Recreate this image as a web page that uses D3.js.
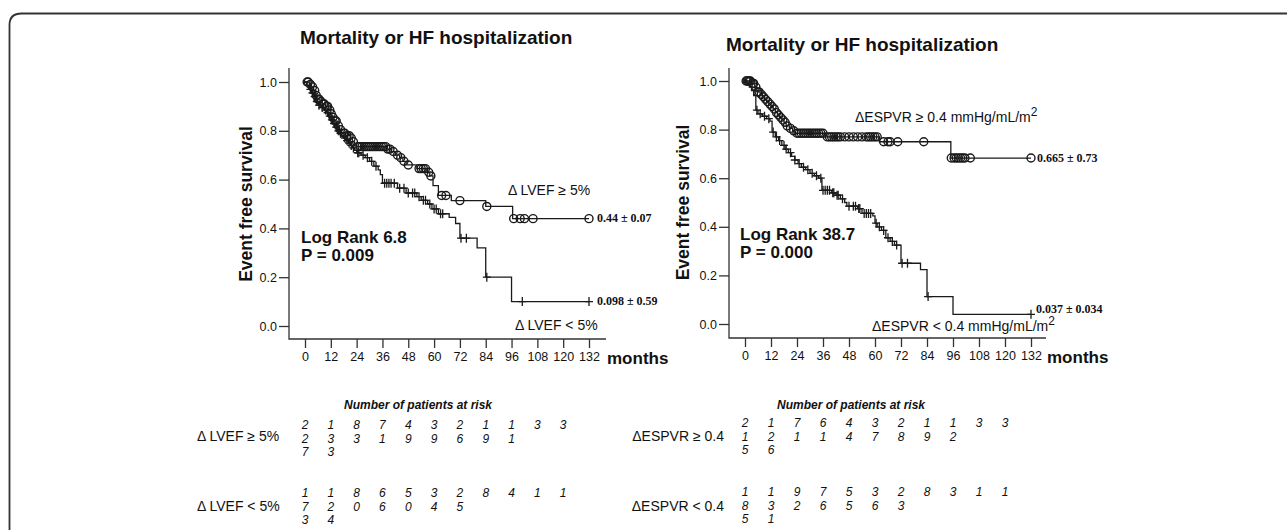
<!DOCTYPE html>
<html lang="en">
<head>
<meta charset="UTF-8">
<title>Mortality or HF hospitalization - Kaplan-Meier</title>
<script src="https://d3js.org/d3.v7.min.js"></script>
<style>
  body { margin: 0; background: #fff; font-family: 'Liberation Sans', Arial, sans-serif; }
  svg text { fill: #111; }
</style>
</head>
<body>
<div id="chart"></div>
<script>
// ---- data ----
const monthTicks = [0, 12, 24, 36, 48, 60, 72, 84, 96, 108, 120, 132];
const survTicks = [0, 0.2, 0.4, 0.6, 0.8, 1.0];
const riskTimes = [0, 12, 24, 36, 48, 60, 72, 84, 96, 108, 120];

// steps: [month, survival after the event]
const lvefHighSteps = [[2,0.99],[3,0.98],[4,0.965],[5,0.945],[5.5,0.93],[7,0.92],[8,0.91],[9.5,0.9],[11,0.885],[12,0.87],[12.5,0.855],[13.5,0.84],[15,0.82],[16,0.805],[17,0.79],[19,0.78],[21,0.77],[22,0.755],[23,0.745],[24,0.735],[38,0.725],[40,0.715],[42,0.70],[44,0.69],[45.5,0.675],[47,0.66],[52,0.645],[57,0.63],[58,0.615],[59.5,0.575],[62,0.535],[68,0.514],[84,0.49],[96.5,0.44]];
const lvefHighCensor = [1,1.5,2.5,3.5,4.5,5.2,6,6.5,7.5,8.5,9,10,10.5,11.5,12.2,13,14,14.5,15.5,16.5,18,18.5,19.5,20.5,21.5,22.5,24.5,25.5,26.5,27.5,28.5,29.5,30.5,31.5,32.5,33.5,34.5,35.5,36.5,37.5,38.5,39.5,41,43,44.5,46,48,53,54,55,56,57.5,58.5,63.5,65.5,72,84.5,97,100,102,106,132];
const lvefLowSteps = [[1,0.985],[2,0.97],[3,0.955],[4,0.94],[5,0.92],[6,0.905],[7,0.895],[9,0.885],[10,0.875],[11,0.86],[12,0.845],[13,0.83],[14,0.815],[15,0.80],[16,0.79],[17,0.78],[18,0.77],[19,0.76],[20,0.75],[21,0.74],[22,0.73],[23,0.72],[24,0.71],[26,0.70],[28,0.69],[30,0.675],[32,0.655],[34,0.64],[35,0.62],[36,0.585],[43,0.565],[47,0.545],[52,0.53],[54,0.515],[57,0.50],[59,0.48],[62,0.46],[67,0.445],[70,0.42],[72,0.36],[80,0.32],[84,0.20],[96,0.10]];
const lvefLowCensor = [2.5,3.5,4.5,5.5,6.5,8,9.5,10.5,11.5,12.5,13.5,14.5,15.5,16.5,18.5,19.5,20.5,21.5,22.5,24.5,25,27,29,31,33,37,38,39,40,41.5,44,46,48,50,51,53,55,56,58,60,61,63,64,72.5,75,84.5,101,132];

const espvrHighSteps = [[3,0.99],[4.5,0.975],[5.5,0.955],[7,0.945],[8,0.935],[9,0.925],[10,0.915],[11,0.905],[12,0.895],[13,0.885],[14,0.87],[15,0.86],[16,0.85],[17,0.84],[18,0.83],[19,0.815],[20.5,0.805],[22,0.795],[23,0.785],[37,0.77],[62,0.75],[95,0.683]];
const espvrHighCensor = [0.5,1,1.5,2,2.5,3.5,4,5,5.8,6.5,7.5,8.5,9.5,10.5,11.5,12.5,13.5,14.5,15.5,16.5,17.5,18.5,19.5,21,22.5,24,25,26,27,28,29,30,31,32,33,34,35,36,38,39,40,41,42,43,44,46,48,50,52,54,56,57,58,59,60,61,64,66,67,70.5,82.5,95.2,96.5,97.5,98.5,99.5,100.5,101.5,104,132];
const espvrLowSteps = [[1,0.99],[2,0.975],[3,0.96],[4,0.94],[5,0.88],[6,0.865],[8,0.855],[10,0.845],[11.5,0.835],[12.5,0.79],[14,0.77],[15.5,0.755],[17,0.735],[18.5,0.72],[20,0.705],[21.5,0.69],[23,0.675],[24.5,0.66],[26,0.645],[28,0.635],[30,0.62],[32,0.61],[34,0.60],[35.5,0.55],[40,0.54],[42,0.53],[44,0.515],[46,0.50],[47,0.485],[52,0.475],[54,0.455],[59,0.445],[60,0.415],[61,0.40],[63,0.385],[65,0.355],[67,0.34],[69,0.325],[72,0.25],[81,0.224],[84,0.113],[96,0.04]];
const espvrLowCensor = [5.5,7,9,11,13,14.5,16,18,19,21,23,25,27,29,31,33,35,36,37,38,39,40.5,41,42.5,43,45,48,50,51,52.5,53,55,56,57,58,60.5,62,64,66,68,70,72.5,75,84.5,132];

// numbers at risk (printed as stacked digits)
const lvefHighRisk = [227, 133, 83, 71, 49, 39, 26, 19, 11, 3, 3];
const lvefLowRisk = [173, 124, 80, 66, 50, 34, 25, 8, 4, 1, 1];
const espvrHighRisk = [215, 126, 71, 61, 44, 37, 28, 19, 12, 3, 3];
const espvrLowRisk = [185, 131, 92, 76, 55, 36, 23, 8, 3, 1, 1];

const W = 1287, H = 530;
const svg = d3.select("#chart").append("svg")
    .attr("width", W).attr("height", H);

// rounded frame, right and bottom run off the picture
svg.append("path")
    .attr("d", "M9.5,560 L9.5,25 Q9.5,13.5 21.5,13.5 L1300,13.5")
    .attr("fill", "none").attr("stroke", "#333").attr("stroke-width", 1.8);

const ink = "#1a1a1a";

function survAt(steps, t) {
    let s = 1;
    steps.forEach(d => { if (d[0] <= t) s = d[1]; });
    return s;
}

function drawPanel(opt) {
    const g = svg.append("g");
    const x = d3.scaleLinear().domain([0, 132]).range(opt.xRange);
    const y = d3.scaleLinear().domain([0, 1]).range(opt.yRange);

    g.append("text")
        .attr("x", opt.titleX).attr("y", opt.titleY)
        .style("font-size", "19px").style("font-weight", "bold")
        .text("Mortality or HF hospitalization");

    // axis lines (L-shape)
    g.append("path")
        .attr("d", `M${opt.axisX},${opt.axisTop} V${opt.axisY} H${opt.axisRight}`)
        .attr("fill", "none").attr("stroke", "#333").attr("stroke-width", 1.3);

    const yAxis = g.append("g")
        .attr("transform", `translate(${opt.axisX},0)`)
        .call(d3.axisLeft(y).tickValues(survTicks).tickSize(10).tickPadding(2).tickFormat(d3.format(".1f")));
    const xAxis = g.append("g")
        .attr("transform", `translate(0,${opt.axisY})`)
        .call(d3.axisBottom(x).tickValues(monthTicks).tickSize(9).tickPadding(4));
    [yAxis, xAxis].forEach(a => {
        a.select(".domain").remove();
        a.selectAll("line").attr("stroke", "#333").attr("stroke-width", 1.3);
        a.selectAll("text").style("font-size", "12.5px").style("font-family", "'Liberation Sans', Arial, sans-serif").attr("fill", "#111");
    });

    g.append("text")
        .attr("x", opt.axisRight + 1).attr("y", opt.axisY + 25)
        .style("font-size", "17px").style("font-weight", "bold")
        .text("months");

    g.append("text")
        .attr("transform", `translate(${opt.yLabelX},${(opt.yRange[0] + opt.yRange[1]) / 2}) rotate(-90)`)
        .attr("text-anchor", "middle")
        .style("font-size", "17.5px").style("font-weight", "bold")
        .text("Event free survival");

    const line = d3.line().x(d => x(d[0])).y(d => y(d[1])).curve(d3.curveStepAfter);

    opt.groups.forEach(grp => {
        const last = d3.max(grp.censor);
        const pts = [[0, 1]].concat(grp.steps, [[last, grp.steps[grp.steps.length - 1][1]]]);
        g.append("path").attr("d", line(pts))
            .attr("fill", "none").attr("stroke", ink).attr("stroke-width", 1.3);

        const marks = g.append("g");
        if (grp.mark === "circle") {
            marks.selectAll("circle").data(grp.censor).join("circle")
                .attr("cx", d => x(d)).attr("cy", d => y(survAt(grp.steps, d)))
                .attr("r", 4).attr("fill", "none").attr("stroke", ink).attr("stroke-width", 1.4);
        } else {
            marks.selectAll("path").data(grp.censor).join("path")
                .attr("d", d => {
                    const cx = x(d), cy = y(survAt(grp.steps, d));
                    return `M${cx - 4},${cy} H${cx + 4} M${cx},${cy - 4.5} V${cy + 4.5}`;
                })
                .attr("fill", "none").attr("stroke", ink).attr("stroke-width", 1.3);
        }
    });

    opt.notes.forEach(n => {
        const t = g.append("text")
            .attr("x", n.x).attr("y", n.y)
            .style("font-size", n.size + "px")
            .style("font-weight", n.bold ? "bold" : "normal")
            .style("font-family", n.serif ? "'Liberation Serif', 'Times New Roman', serif" : null);
        t.append("tspan").text(n.text);
        if (n.sup) {
            t.append("tspan").attr("dy", -6).style("font-size", (n.size - 2) + "px").text(n.sup);
        }
    });

    // numbers at risk
    g.append("text")
        .attr("x", opt.riskTitleX).attr("y", 409)
        .attr("text-anchor", "middle")
        .style("font-size", "12px").style("font-weight", "bold").style("font-style", "italic")
        .text("Number of patients at risk");

    opt.risk.forEach(r => {
        g.append("text")
            .attr("x", r.labelX).attr("y", r.labelY)
            .attr("text-anchor", r.anchor)
            .style("font-size", "14px")
            .text(r.label);
        const cols = g.append("g");
        r.values.forEach((v, i) => {
            String(v).split("").forEach((ch, j) => {
                cols.append("text")
                    .attr("x", x(riskTimes[i])).attr("y", r.top + j * 13.6)
                    .attr("text-anchor", "middle")
                    .style("font-size", "12px").style("font-style", "italic")
                    .text(ch);
            });
        });
    });
}

drawPanel({
    xRange: [305, 589], yRange: [326, 82],
    axisX: 289, axisTop: 68, axisY: 339, axisRight: 606,
    titleX: 300, titleY: 44,
    yLabelX: 252,
    groups: [
        { steps: lvefLowSteps, censor: lvefLowCensor, mark: "cross" },
        { steps: lvefHighSteps, censor: lvefHighCensor, mark: "circle" }
    ],
    notes: [
        { x: 508, y: 195, size: 14, text: "\u0394 LVEF \u2265 5%" },
        { x: 515, y: 330, size: 14, text: "\u0394 LVEF  < 5%" },
        { x: 597, y: 222, size: 12, bold: true, serif: true, text: "0.44 \u00b1 0.07" },
        { x: 597, y: 305, size: 12, bold: true, serif: true, text: "0.098  \u00b1 0.59" },
        { x: 301, y: 243, size: 17, bold: true, text: "Log Rank 6.8" },
        { x: 301, y: 261, size: 17, bold: true, text: "P = 0.009" }
    ],
    riskTitleX: 418,
    risk: [
        { label: "\u0394 LVEF \u2265 5%", labelX: 197, labelY: 441, anchor: "start", values: lvefHighRisk, top: 429 },
        { label: "\u0394 LVEF  < 5%", labelX: 197, labelY: 511, anchor: "start", values: lvefLowRisk, top: 497 }
    ]
});

drawPanel({
    xRange: [745, 1031], yRange: [324, 81],
    axisX: 729, axisTop: 68, axisY: 338, axisRight: 1046,
    titleX: 726, titleY: 51,
    yLabelX: 689,
    groups: [
        { steps: espvrLowSteps, censor: espvrLowCensor, mark: "cross" },
        { steps: espvrHighSteps, censor: espvrHighCensor, mark: "circle" }
    ],
    notes: [
        { x: 855, y: 122, size: 14, text: "\u0394ESPVR \u2265 0.4 mmHg/mL/m", sup: "2" },
        { x: 872, y: 331, size: 14, text: "\u0394ESPVR <  0.4 mmHg/mL/m", sup: "2" },
        { x: 1037, y: 162, size: 12, bold: true, serif: true, text: "0.665 \u00b1 0.73" },
        { x: 1036, y: 313, size: 12, bold: true, serif: true, text: "0.037 \u00b1 0.034" },
        { x: 740, y: 240, size: 17, bold: true, text: "Log Rank 38.7" },
        { x: 740, y: 258, size: 17, bold: true, text: "P = 0.000" }
    ],
    riskTitleX: 851,
    risk: [
        { label: "\u0394ESPVR \u2265 0.4", labelX: 724, labelY: 441, anchor: "end", values: espvrHighRisk, top: 427 },
        { label: "\u0394ESPVR < 0.4", labelX: 724, labelY: 511, anchor: "end", values: espvrLowRisk, top: 496 }
    ]
});
</script>
</body>
</html>
